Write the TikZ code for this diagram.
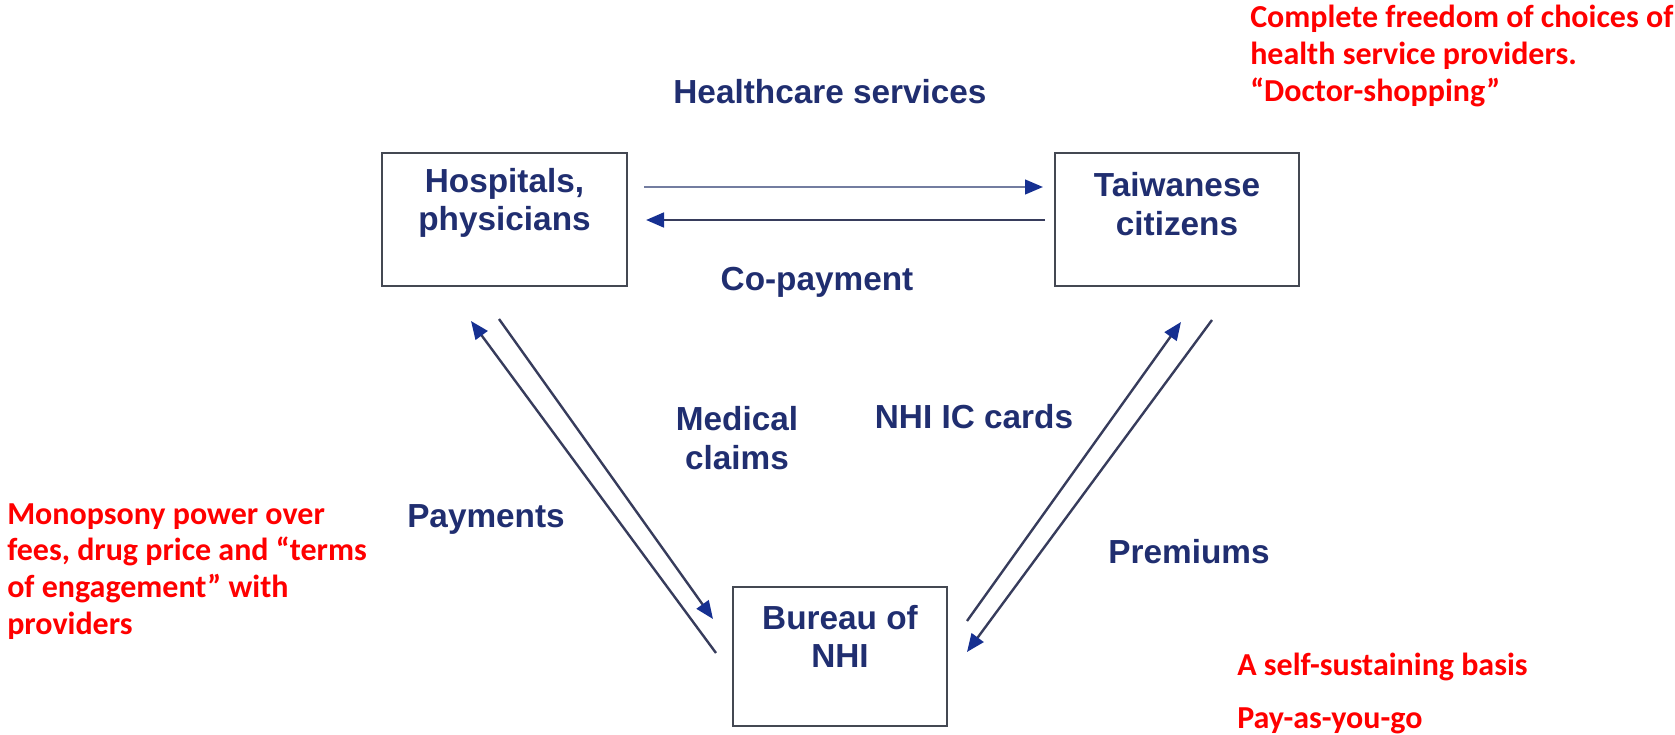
\documentclass[tikz,border=0pt]{standalone}
\usepackage{fontspec}
\setmainfont{Liberation Sans}
\newfontfamily\notefont{Carlito}
\usetikzlibrary{arrows.meta}

\definecolor{labelblue}{RGB}{32,46,112}
\definecolor{headblue}{RGB}{22,48,145}
\definecolor{flowline}{RGB}{55,60,92}
\definecolor{lightflow}{RGB}{115,125,160}
\definecolor{boxedge}{RGB}{68,72,82}
\definecolor{notered}{RGB}{255,0,0}

\begin{document}
\begin{tikzpicture}[x=0.75pt,y=-0.75pt,
  box/.style={draw=boxedge, line width=1.6pt, inner sep=0pt, fill=white},
  bluetext/.style={text=labelblue, font=\fontsize{25}{29}\selectfont\bfseries, align=center, inner sep=0pt},
  flow/.style={draw=flowline, line width=1.8pt, -{Triangle[length=13.5pt,width=11pt,color=headblue]}},
  note/.style={text=notered, font=\notefont\bfseries\fontsize{24}{27.5}\selectfont, align=left, inner sep=0pt}
]
\useasboundingbox (0,0) rectangle (1675,735);

% the three parties
\node[box, minimum width=184pt, minimum height=99.75pt] (hosp) at (504.5,219.5) {};
\node[box, minimum width=183pt, minimum height=99.75pt] (citz) at (1177,219.5) {};
\node[box, minimum width=160.5pt, minimum height=104.25pt] (nhi) at (840,656.5) {};

\node[bluetext] (hosptext) at (504.5,203) {Hospitals,\\physicians};
\node[bluetext] (citztext) at (1177,204) {Taiwanese\\citizens};
\node[bluetext] (nhitext) at (840,636.5) {Bureau of\\NHI};

% end points of the flows
\coordinate (hs1) at (644,187);
\coordinate (hs2) at (1043,187);
\coordinate (cp1) at (1045,220);
\coordinate (cp2) at (646,220);
\coordinate (pay1) at (716,653);
\coordinate (pay2) at (471,321);
\coordinate (clm1) at (499,319);
\coordinate (clm2) at (713,619);
\coordinate (ic1) at (967,621);
\coordinate (ic2) at (1181,322);
\coordinate (prem1) at (1212,320);
\coordinate (prem2) at (967,652);

% flows between the parties
\draw[flow, draw=lightflow] (hs1) -- (hs2);
\draw[flow, line width=2.1pt] (cp1) -- (cp2);
\draw[flow] (pay1) -- (pay2);
\draw[flow] (clm1) -- (clm2);
\draw[flow] (ic1) -- (ic2);
\draw[flow] (prem1) -- (prem2);

% flow labels
\node[bluetext] (lhs) at (830,92) {Healthcare services};
\node[bluetext] (lcp) at (817,282) {Co-payment};
\node[bluetext] (lclm) at (737,438) {Medical\\claims};
\node[bluetext] (lic) at (974,417) {NHI IC cards};
\node[bluetext] (lpay) at (486,519) {Payments};
\node[bluetext] (lprem) at (1189,552) {Premiums};

% annotations
\node[note, anchor=north west] (nfree) at (1250,5) {Complete freedom of choices of\\health service providers.\\“Doctor-shopping”};
\node[note, anchor=north west] (nmono) at (7,503) {Monopsony power over\\fees, drug price and “terms\\of engagement” with\\providers};
\node[note, anchor=base west] (nself) at (1237,675) {A self-sustaining basis};
\node[note, anchor=base west] (npay) at (1237,728) {Pay-as-you-go};
\end{tikzpicture}
\end{document}
